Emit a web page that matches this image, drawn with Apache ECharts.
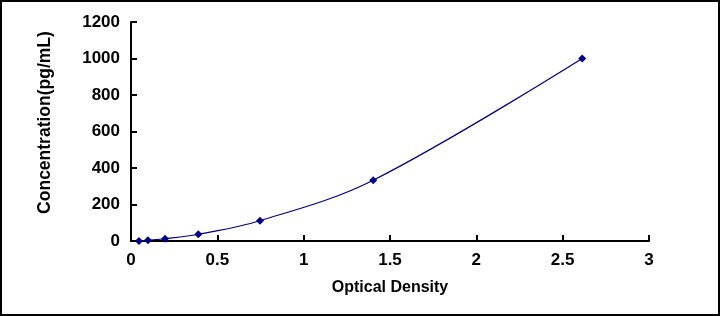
<!DOCTYPE html>
<html>
<head>
<meta charset="utf-8">
<script src="https://cdn.jsdelivr.net/npm/echarts@6/dist/echarts.min.js"></script>
<style>
  html, body { margin: 0; padding: 0; background: #fff; }
  #chart { width: 720px; height: 316px; }
</style>
</head>
<body>
<div id="chart"></div>
<script>
// Standard curve points
const opticalDensity = [0.046, 0.098, 0.197, 0.39, 0.747, 1.403, 2.613];
const concentration = [0, 4.1, 12.3, 37, 111.1, 333.3, 1000];

const axisFont = {
	fontFamily: "Liberation Sans, Arial, sans-serif",
	fontWeight: "bold",
	fontSize: 17,
	color: "#000",
};

const chartDom = document.getElementById("chart");
const myChart = echarts.init(chartDom);

const option = {
	animation: false,
	backgroundColor: "#fff",
	graphic: [
		{
			type: "rect",
			shape: { x: 1, y: 1, width: 718, height: 314 },
			style: { fill: "none", stroke: "#000", lineWidth: 2 },
			silent: true,
		},
	],
	grid: { left: 131, right: 71, top: 22, bottom: 75 },
	xAxis: {
		type: "value",
		min: 0,
		max: 3,
		interval: 0.5,
		name: "Optical Density",
		nameLocation: "middle",
		nameGap: 39,
		nameTextStyle: { ...axisFont, fontSize: 16 },
		axisLine: { show: true, lineStyle: { color: "#000", width: 2 } },
		axisTick: { show: true, inside: true, length: 6, lineStyle: { color: "#000", width: 2 } },
		axisLabel: { ...axisFont, margin: 11 },
		splitLine: { show: false },
	},
	yAxis: {
		type: "value",
		min: 0,
		max: 1200,
		interval: 200,
		name: "Concentration(pg/mL)",
		nameLocation: "middle",
		nameGap: 77,
		nameTextStyle: { ...axisFont, fontSize: 17.5, padding: [0, 0, 0, 18] },
		axisLine: { show: true, lineStyle: { color: "#000", width: 2 } },
		axisTick: { show: true, inside: true, length: 6, lineStyle: { color: "#000", width: 2 } },
		axisLabel: { ...axisFont, margin: 11, formatter: (v) => String(v) },
		splitLine: { show: false },
	},
	series: [
		{
			type: "line",
			data: opticalDensity.map((x, i) => [x, concentration[i]]),
			smooth: 0.35,
			symbol: "diamond",
			symbolSize: 8,
			lineStyle: { color: "#000080", width: 1.2 },
			itemStyle: { color: "#000080" },
		},
	],
};

myChart.setOption(option);
</script>
</body>
</html>
